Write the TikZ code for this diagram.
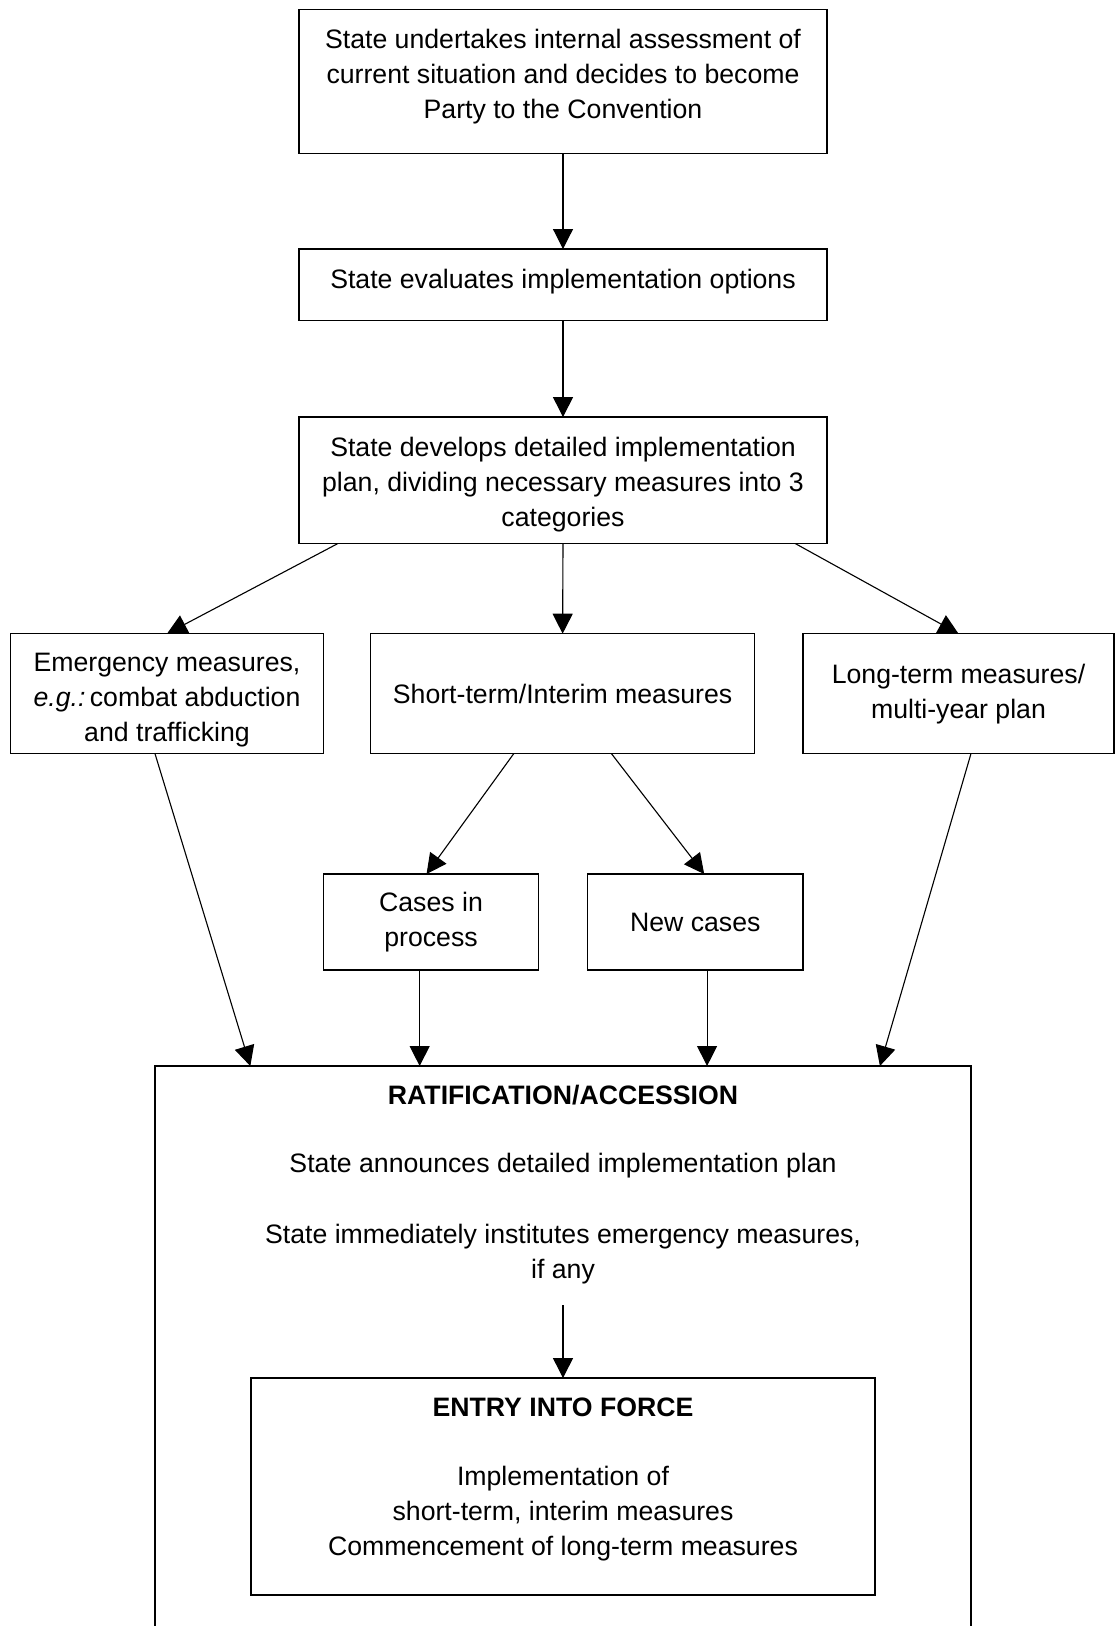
\documentclass[tikz,border=0pt]{standalone}
\usepackage{fontspec}
\setmainfont{Liberation Sans}
\usetikzlibrary{arrows.meta,positioning}

\begin{document}
\begin{tikzpicture}[x=0.45pt, y=-0.45pt,
    every node/.style={font={\fontsize{12}{15.75}\selectfont}, outer sep=0pt},
    box/.style={draw, line width=0.65pt, align=center, inner sep=0pt},
    arr/.style={-{Triangle[length=9pt,width=9pt]}, line width=0.5pt}]
    \useasboundingbox[fill=white] (0,0) rectangle (1115,1626);

    % Decision chain
    \node[box, minimum width=237.6pt, minimum height=64.8pt, text depth=7.2pt] (assess) at (563,81.5) {State undertakes internal assessment of\\ current situation and decides to become\\ Party to the Convention};
    \node[box, minimum width=237.6pt, minimum height=32.2pt, text depth=5.3pt] (evalopt) at (563,284.8) {State evaluates implementation options};
    \node[box, minimum width=237.6pt, minimum height=56.9pt, text height=44pt] (plan) at (563,480.3) {State develops detailed implementation\\ plan, dividing necessary measures into 3\\ categories};

    % Three categories
    \node[box, minimum width=140.8pt, minimum height=54pt, text height=45.7pt] (emerg) at (167,693.7) {Emergency measures,\\ \textit{e.g.:}\,combat abduction\\ and trafficking};
    \node[box, minimum width=172.8pt, minimum height=54pt] (shortt) at (562.6,693.7) {Short-term/Interim measures};
    \node[box, minimum width=140pt, minimum height=54pt] (longt) at (958.5,693.7) {Long-term measures/\\ multi-year plan};

    % Short-term split
    \node[box, minimum width=96.7pt, minimum height=43.2pt] (cases) at (431,922) {Cases in\\ process};
    \node[box, minimum width=97pt, minimum height=43.2pt] (newc) at (695.3,922) {New cases};

    % Ratification (open at the bottom)
    \node[anchor=north, minimum width=367.2pt, minimum height=270pt] (ratif) at (563,1066) {};
    \draw[line width=0.65pt] (ratif.south west) -- (ratif.north west) -- (ratif.north east) -- (ratif.south east);
    \node (ratiftitle) at (563,1095) {\textbf{RATIFICATION/ACCESSION}};
    \node (announce) at (563,1166) {State announces detailed implementation plan};
    \node[align=center] (institute) at (563,1254) {State immediately institutes emergency measures,\\ if any};

    % Entry into force
    \node[box, minimum width=280.8pt, minimum height=97.6pt] (entry) at (563,1486.5) {};
    \node (entrytitle) at (563,1407.5) {\textbf{ENTRY INTO FORCE}};
    \node[align=center] (entrytext) at (563,1514) {Implementation of\\ short-term, interim measures\\ Commencement of long-term measures};
    \coordinate (entrystart) at (563,1305);

    % Arrows
    \draw[arr] (assess.south) -- (evalopt.north);
    \draw[arr] (evalopt.south) -- (plan.north);
    \draw[arr] ([xshift=17.5pt]plan.south west) -- (emerg.north);
    \draw[arr] (plan.south) -- (shortt.north);
    \draw[arr] ([xshift=-14.3pt]plan.south east) -- (longt.north);
    \draw[arr] ([xshift=-22pt]shortt.south) -- ([xshift=-2pt]cases.north);
    \draw[arr] ([xshift=22pt]shortt.south) -- ([xshift=4pt]newc.north);
    \draw[arr] ([xshift=-5.4pt]emerg.south) -- ([xshift=42.9pt]ratif.north west);
    \draw[arr] ([xshift=-5.1pt]cases.south) -- ([xshift=-5.1pt]cases.south |- ratif.north);
    \draw[arr] ([xshift=5.3pt]newc.south) -- ([xshift=5.3pt]newc.south |- ratif.north);
    \draw[arr] ([xshift=5.6pt]longt.south) -- ([xshift=-41pt]ratif.north east);
    \draw[arr] (entrystart) -- (entry.north);
\end{tikzpicture}
\end{document}
